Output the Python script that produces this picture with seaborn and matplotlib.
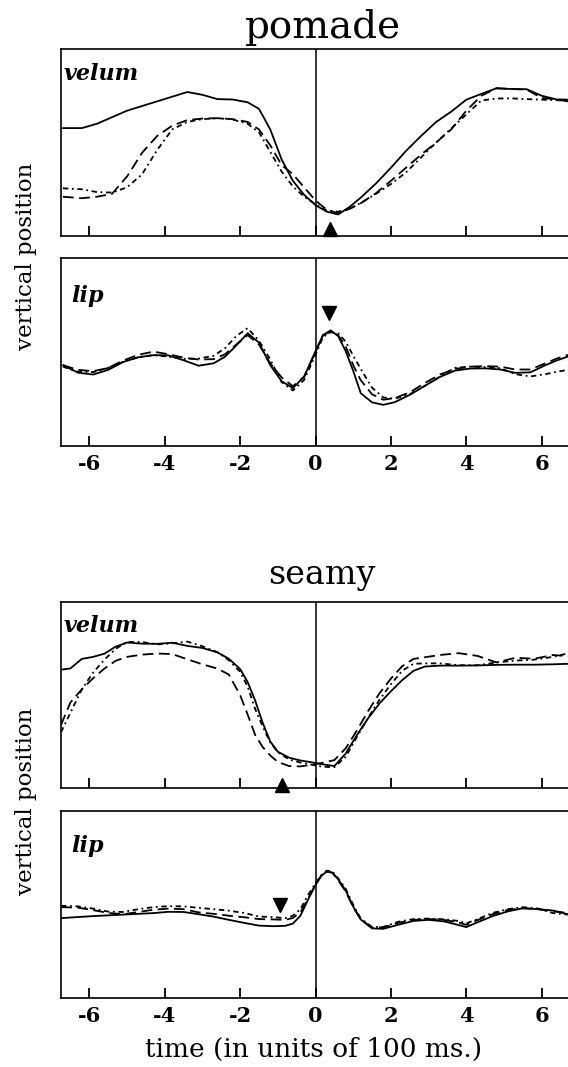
import numpy as np
import pandas as pd
import matplotlib
matplotlib.use("Agg")
import matplotlib.pyplot as plt
import seaborn as sns

# ---------------- data (time in units of 100 ms, position in arbitrary units 0-100) ----------------
t_pom_velum = [-6.7, -6.2, -5.8, -5.4, -5.0, -4.6, -4.2, -3.8, -3.4, -3.0, -2.6, -2.2, -1.8, -1.5, -1.2,
               -0.9, -0.6, -0.3, 0.0, 0.3, 0.6, 0.9, 1.2, 1.6, 2.0, 2.4, 2.8, 3.2, 3.6, 4.0, 4.4, 4.8,
               5.2, 5.6, 6.0, 6.4, 6.7]
pom_velum_solid = [57.7, 57.7, 60, 63.5, 67, 69.5, 72, 74.5, 77, 75.5, 73.2, 73, 71.5, 68, 57,
                   41, 29.5, 22, 16.5, 13, 11.5, 15.5, 20.5, 28, 36.5, 45.5, 53.5, 61, 66.5, 72.9, 76, 79,
                   78.6, 78.5, 75, 73, 72]
pom_velum_dashed = [21, 20.2, 21, 22.5, 31.8, 44.5, 53.5, 59, 62, 62.8, 63, 62.5, 61, 57, 48.5,
                    38, 33, 26, 19, 14, 12.2, 14.5, 17.5, 22.8, 29.5, 36.5, 43.5, 50, 57, 67, 75, 79,
                    78.6, 78.3, 73.8, 73.1, 72.9]
pom_velum_dotted = [25.5, 25, 23.5, 23.2, 26, 33, 46, 57, 61, 62.5, 63, 62.3, 60, 55.5, 45,
                    34.5, 26.5, 21, 17, 13.6, 13, 14.5, 17.7, 22.5, 27.8, 34, 42, 50, 57.5, 65, 72.5, 73.5,
                    73.6, 73.2, 72.9, 72.6, 72.3]

t_pom_lip = [-6.7, -6.3, -5.9, -5.5, -5.1, -4.7, -4.3, -3.9, -3.5, -3.1, -2.7, -2.4, -2.1, -1.8, -1.5,
             -1.2, -0.9, -0.6, -0.3, 0.0, 0.2, 0.4, 0.6, 0.8, 1.0, 1.2, 1.5, 1.8, 2.1, 2.5, 2.9, 3.3,
             3.7, 4.1, 4.5, 4.9, 5.3, 5.7, 6.1, 6.4, 6.7]
pom_lip_solid = [43, 39, 38, 40.5, 44.7, 47.2, 48.3, 48.2, 45.6, 42.7, 44, 47.5, 53.5, 60, 55,
                 43, 34.5, 30.8, 36.9, 50.5, 59, 61.5, 58.5, 50.5, 40, 28.1, 23.2, 21.9, 23.3, 27.2, 32, 36.7,
                 40.1, 41.2, 41.3, 40.7, 38.9, 39.2, 43, 45.5, 47.6]
pom_lip_dashed = [43, 40.5, 39.8, 41.5, 45.5, 48.5, 50.2, 48.8, 47, 46, 46.2, 48.8, 54, 59, 54,
                  44, 36.5, 31.8, 36.9, 50, 59, 60.8, 59, 53, 43, 35, 27.5, 24.6, 25.5, 28.5, 33.5, 38,
                  41, 42.2, 42.5, 42.2, 40.7, 40.7, 44, 46.5, 48.5]
pom_lip_dotted = [42.2, 39.5, 39.3, 41.5, 44.8, 47.2, 48.4, 47.5, 46.3, 46.5, 48, 52, 58.5, 62.7, 56,
                  46, 34, 29.5, 35.2, 48.5, 58, 60.5, 60, 55.5, 48, 41, 31, 25.8, 25.2, 27.5, 32, 37,
                  41.6, 42.2, 42, 41.4, 38.2, 37, 38.2, 39.5, 40.5]

t_sea_velum = [-6.75, -6.5, -6.2, -5.9, -5.6, -5.3, -5.0, -4.6, -4.2, -3.8, -3.4, -3.0, -2.6, -2.3, -2.0,
               -1.8, -1.6, -1.4, -1.2, -1.0, -0.7, -0.4, -0.1, 0.2, 0.5, 0.8, 1.1, 1.4, 1.7, 2.0, 2.3,
               2.6, 2.9, 3.3, 3.8, 4.3, 4.8, 5.3, 5.8, 6.3, 6.75]
sea_velum_solid = [63.6, 64.3, 69.4, 70.5, 72.2, 76, 78.2, 77.6, 77.5, 78.1, 76.4, 75.3, 72.9, 69.5, 64,
                   57, 47, 35, 25, 19.5, 16.3, 14.8, 13.8, 12.7, 11.8, 18.5, 28.5, 37.6, 45.5, 52, 58,
                   63, 65.3, 65.8, 65.8, 65.9, 66.2, 66.3, 66.3, 66.5, 66.8]
sea_velum_dashed = [34, 46, 53, 59, 64.2, 68.4, 70.5, 71.7, 72.3, 72, 69.2, 66.5, 64.2, 61, 50,
                    39.5, 28.5, 22, 17.5, 14, 11.8, 11.6, 12.5, 13.6, 15, 21.3, 31, 41.5, 51, 58.8, 65.5,
                    69.4, 70.3, 71.5, 72.5, 71, 67.5, 70, 69.5, 71.5, 70.8]
sea_velum_dotted = [30, 40.5, 53, 62, 69, 74.8, 78.5, 78.5, 77.2, 77.8, 78.7, 76.2, 73, 68.7, 62.5,
                    54.5, 42.5, 33, 24.5, 19.3, 15.3, 13.7, 12.5, 11.4, 11.2, 16.8, 27.5, 38, 47.5, 55.8, 63,
                    66.8, 67, 67, 66, 66, 67.5, 68.5, 69, 70.5, 72.6]

t_sea_lip = [-6.75, -6.3, -5.9, -5.5, -5.1, -4.7, -4.3, -3.9, -3.5, -3.1, -2.7, -2.3, -1.9, -1.5, -1.1,
             -0.8, -0.6, -0.4, -0.2, 0.0, 0.15, 0.3, 0.45, 0.6, 0.8, 1.0, 1.2, 1.5, 1.8, 2.2, 2.6,
             3.0, 3.4, 3.8, 4.0, 4.3, 4.7, 5.1, 5.5, 5.9, 6.3, 6.75]
sea_lip_solid = [42.7, 43.3, 43.8, 44.2, 44.6, 45, 45.4, 46.1, 46, 44.8, 43.5, 41.8, 40.2, 38.7, 38.4,
                 38.6, 39.8, 44, 52.5, 60.5, 65.3, 67.6, 67, 63.5, 57.5, 48.9, 42, 37.2, 37, 39.2, 41.2,
                 41.8, 41, 39, 37.9, 40.5, 43.8, 46.3, 48, 47.5, 46.8, 44.5]
sea_lip_dashed = [48.6, 48.3, 47, 45.5, 44.8, 46, 47.2, 47.8, 47.5, 45.8, 45, 44, 43.2, 42.2, 42,
                  41.8, 42.8, 45.8, 53, 60.5, 65.3, 67.6, 67, 63, 57, 48.6, 42, 37.6, 37.8, 40.2, 41.8,
                  42.2, 41.8, 40.4, 39.1, 41.7, 44.8, 47.1, 48, 47.5, 46.3, 45.4]
sea_lip_dotted = [49.3, 49, 47.8, 46.2, 46, 47.5, 48.6, 49.1, 49, 48.2, 47.5, 46.7, 45.5, 43.6, 43.2,
                  42.7, 44, 47.5, 55, 61.4, 65.7, 68.1, 67.7, 64, 58.5, 49.8, 42.5, 38, 38, 40.8, 42.2,
                  42.5, 42.1, 41.2, 39.9, 42.2, 45.5, 47.5, 48.6, 47.9, 45.4, 44.5]

# event markers (time, position)
pom_velum_marker = (0.38, 3.7)
pom_lip_marker = (0.36, 71)
sea_velum_marker = (-0.9, 1.5)
sea_lip_marker = (-0.95, 50)

words = ["pomade", "seamy"]
articulators = ["velum", "lip"]
tick_values = [-6, -4, -2, 0, 2, 4, 6]
tick_labels = ["-6", "-4", "-2", "0", "2", "4", "6"]

# ---------------- style ----------------
sns.set_theme(style="white")
plt.rcParams["font.family"] = ["DejaVu Serif"]
plt.rcParams["axes.linewidth"] = 1.2
plt.rcParams["text.color"] = "black"
plt.rcParams["xtick.color"] = "black"
plt.rcParams["xtick.labelcolor"] = "black"
plt.rcParams["axes.labelcolor"] = "black"

W, H = 568, 1067
fig = plt.figure(figsize=(W / 100, H / 100), dpi=100)

x0_px, unit_px = 315.5, 37.7
left_px, right_px = 60.5, 575.0
xlim = ((left_px - x0_px) / unit_px, (right_px - x0_px) / unit_px)


def add_axes(top_px, bot_px):
    return fig.add_axes([left_px / W, (H - bot_px) / H, (right_px - left_px) / W, (bot_px - top_px) / H])


panels = [
    (49, 236, t_pom_velum, pom_velum_solid, pom_velum_dashed, pom_velum_dotted, pom_velum_marker, "^", articulators[0], 31, False),
    (258, 446, t_pom_lip, pom_lip_solid, pom_lip_dashed, pom_lip_dotted, pom_lip_marker, "v", articulators[1], 44, True),
    (602, 788, t_sea_velum, sea_velum_solid, sea_velum_dashed, sea_velum_dotted, sea_velum_marker, "^", articulators[0], 30, False),
    (811, 998, t_sea_lip, sea_lip_solid, sea_lip_dashed, sea_lip_dotted, sea_lip_marker, "v", articulators[1], 41, True),
]

dash_map = {"solid": "", "dashed": (6, 3), "dashdot": (3, 2, 1, 2)}

for top, bot, t, ys, yd, yo, mk, mshape, name, name_off, show_labels in panels:
    ax = add_axes(top, bot)
    df = pd.DataFrame({
        "time": list(t) * 3,
        "pos": list(ys) + list(yd) + list(yo),
        "trial": ["solid"] * len(t) + ["dashed"] * len(t) + ["dashdot"] * len(t),
    })
    sns.lineplot(data=df, x="time", y="pos", style="trial", dashes=dash_map, color="black",
                 linewidth=1.3, estimator=None, errorbar=None, legend=False, ax=ax)
    ax.axvline(0, color="black", linewidth=1.1)
    ax.plot([mk[0]], [mk[1]], marker=mshape, color="black", markersize=10, linestyle="none", clip_on=False)
    ax.set_xlim(*xlim)
    ax.set_ylim(0, 100)
    ax.set_yticks([])
    ax.set_xticks(tick_values)
    ax.tick_params(axis="x", direction="in", length=7, width=1.3, pad=6, bottom=True, colors="black")
    if show_labels:
        ax.set_xticklabels(tick_labels, fontsize=15, fontweight="bold", color="black")
    else:
        ax.set_xticklabels([])
    ax.set_xlabel("")
    ax.set_ylabel("")
    for s in ax.spines.values():
        s.set_color("black")
        s.set_linewidth(1.2)
    ax.text((3 if name == "velum" else 11) / (right_px - left_px),
            1 - name_off / (bot - top), name, transform=ax.transAxes, fontsize=16,
            fontweight="bold", fontstyle="italic", va="baseline", ha="left", color="black")

# titles
fig.text(323 / W, (H - 38) / H, words[0], ha="center", va="baseline", fontsize=28, color="black")
fig.text(322 / W, (H - 584) / H, words[1], ha="center", va="baseline", fontsize=24, color="black")

# y labels
fig.text(26 / W, (H - 256) / H, "vertical position", rotation=90, ha="center", va="center", fontsize=16.5, color="black")
fig.text(26 / W, (H - 801) / H, "vertical position", rotation=90, ha="center", va="center", fontsize=16.5, color="black")

# x label
fig.text(314 / W, (H - 1057) / H, "time (in units of 100 ms.)", ha="center", va="baseline", fontsize=19, color="black")

fig.savefig("out.png", dpi=100)
